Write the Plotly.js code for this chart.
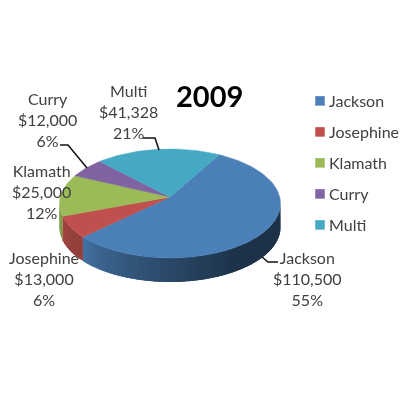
<!DOCTYPE html>
<html><head><meta charset="utf-8">
<script src="https://cdn.plot.ly/plotly-3.0.1.min.js"></script>
<style>html,body{margin:0;padding:0;background:#fff}#c{width:407px;height:411px;filter:blur(0.4px)}</style>
</head><body><div id="c"></div><script>
const categories=['Jackson','Josephine','Klamath','Curry','Multi'];
const amounts=[110500,13000,25000,12000,41328];
const percentLabels=['55%','6%','12%','6%','21%'];
const amountLabels=['$110,500','$13,000','$25,000','$12,000','$41,328'];
const topColors=['#4b7fb8','#c0504d','#9bbb59','#8064a2','#46a9c3'];
const wallLeft=['#4474a5','#a8453f','#7f9c49','#6a5387','#3d8da3'];
const wallRight=['#1d3249','#93403c','#7f9c49','#6a5387','#3d8da3'];
const titleText='2009';

const startDeg=-60.3, cx=170, cy=197, a=109.7, b=53.7, k=0.119, depth=24;
const rad=d=>d*Math.PI/180;
function pt(d,dy){const c=Math.cos(rad(d)),s=Math.sin(rad(d)),w=1-k*s;return [cx+a*c/w,cy+b*s/w+(dy||0)];}
const total=amounts.reduce((p,q)=>p+q,0);
let acc=startDeg;
const spans=amounts.map(v=>{const s=acc;acc+=v/total*360;return [s,acc];});
const traces=[];
function hex(h){return [1,3,5].map(i=>parseInt(h.substr(i,2),16));}
function mix(p,q,t){const A=hex(p),B=hex(q);return 'rgb('+A.map((v,i)=>Math.round(v+(B[i]-v)*t)).join(',')+')';}

// side wall (front part of the rim only); strips overlap so no seams show
const visA=Math.asin(k)*180/Math.PI, visB=180-visA;
spans.forEach((sp,i)=>{
  const lo=Math.max(sp[0],visA), hi=Math.min(sp[1],visB);
  if(hi<=lo) return;
  const step=2, n=Math.ceil((hi-lo)/step);
  for(let j=0;j<n;j++){
    const d0=lo+(hi-lo)*j/n, d1=Math.min(hi,lo+(hi-lo)*(j+1)/n+2.5);
    const xs=[],ys=[];
    for(let q=0;q<=4;q++){const p=pt(d0+(d1-d0)*q/4,0);xs.push(p[0]);ys.push(p[1]);}
    for(let q=4;q>=0;q--){const p=pt(d0+(d1-d0)*q/4,depth);xs.push(p[0]);ys.push(p[1]);}
    const f=(hi-(d0+(hi-lo)/n/2))/(hi-lo);
    const t=Math.min(1,Math.pow(f/0.62,0.75));
    traces.push({type:'scatter',mode:'lines',x:xs,y:ys,fill:'toself',fillcolor:mix(wallLeft[i],wallRight[i],t),
      line:{width:0},hoverinfo:'skip',showlegend:false});
  }
});
// top face
spans.forEach((sp,i)=>{
  const xs=[cx],ys=[cy];
  const n=Math.ceil((sp[1]-sp[0])/1.5);
  for(let j=0;j<=n;j++){const p=pt(sp[0]+(sp[1]-sp[0])*j/n);xs.push(p[0]);ys.push(p[1]);}
  xs.push(cx);ys.push(cy);
  traces.push({type:'scatter',mode:'lines',x:xs,y:ys,fill:'toself',fillcolor:topColors[i],
    line:{width:0.5,color:topColors[i]},name:categories[i],hoverinfo:'name',showlegend:false});
});
// legend entries
categories.forEach((c,i)=>{
  traces.push({type:'scatter',mode:'markers',x:[null],y:[null],name:c,legendgroup:c,
    marker:{symbol:'square',size:9.5,color:topColors[i]},showlegend:true});
});

const labelPos=[[307,278],[44,278],[41,191],[47,119],[128,111]];
const annotations=categories.map((c,i)=>({x:labelPos[i][0],y:labelPos[i][1],xref:'x',yref:'y',showarrow:false,
  text:c+'<br>'+amountLabels[i]+'<br>'+percentLabels[i],align:'center',font:{family:'Lato',size:16,color:'#404040'}}));
annotations.push({x:209,y:95,xref:'x',yref:'y',showarrow:false,text:'<b>'+titleText+'</b>',font:{family:'Lato',size:29,color:'#000'}});

const leader=(p)=>({type:'path',xref:'x',yref:'y',path:p,line:{color:'#111',width:1.5},layer:'above'});
const layout={width:407,height:411,margin:{l:0,r:0,t:0,b:0},paper_bgcolor:'#fff',plot_bgcolor:'#fff',
  xaxis:{range:[0,407],visible:false,fixedrange:true},
  yaxis:{range:[411,0],visible:false,fixedrange:true},
  annotations,
  shapes:[leader('M143,138 L155,138 L159,150'),leader('M60,145 L68,145 L87,168'),leader('M262,257 L268,262 L278,262')],
  legend:{x:289/407,y:(411-84)/411,xanchor:'left',yanchor:'top',bgcolor:'rgba(0,0,0,0)',traceorder:'grouped',tracegroupgap:7.2,
    font:{family:'Lato',size:16,color:'#404040'},itemclick:false,itemdoubleclick:false},
  showlegend:true};
Plotly.newPlot('c',traces,layout,{displayModeBar:false,staticPlot:true}).then(gd=>{
  gd.querySelectorAll('.legend .legendsymbols').forEach(n=>n.setAttribute('transform','translate(11,0)'));
});
</script></body></html>
